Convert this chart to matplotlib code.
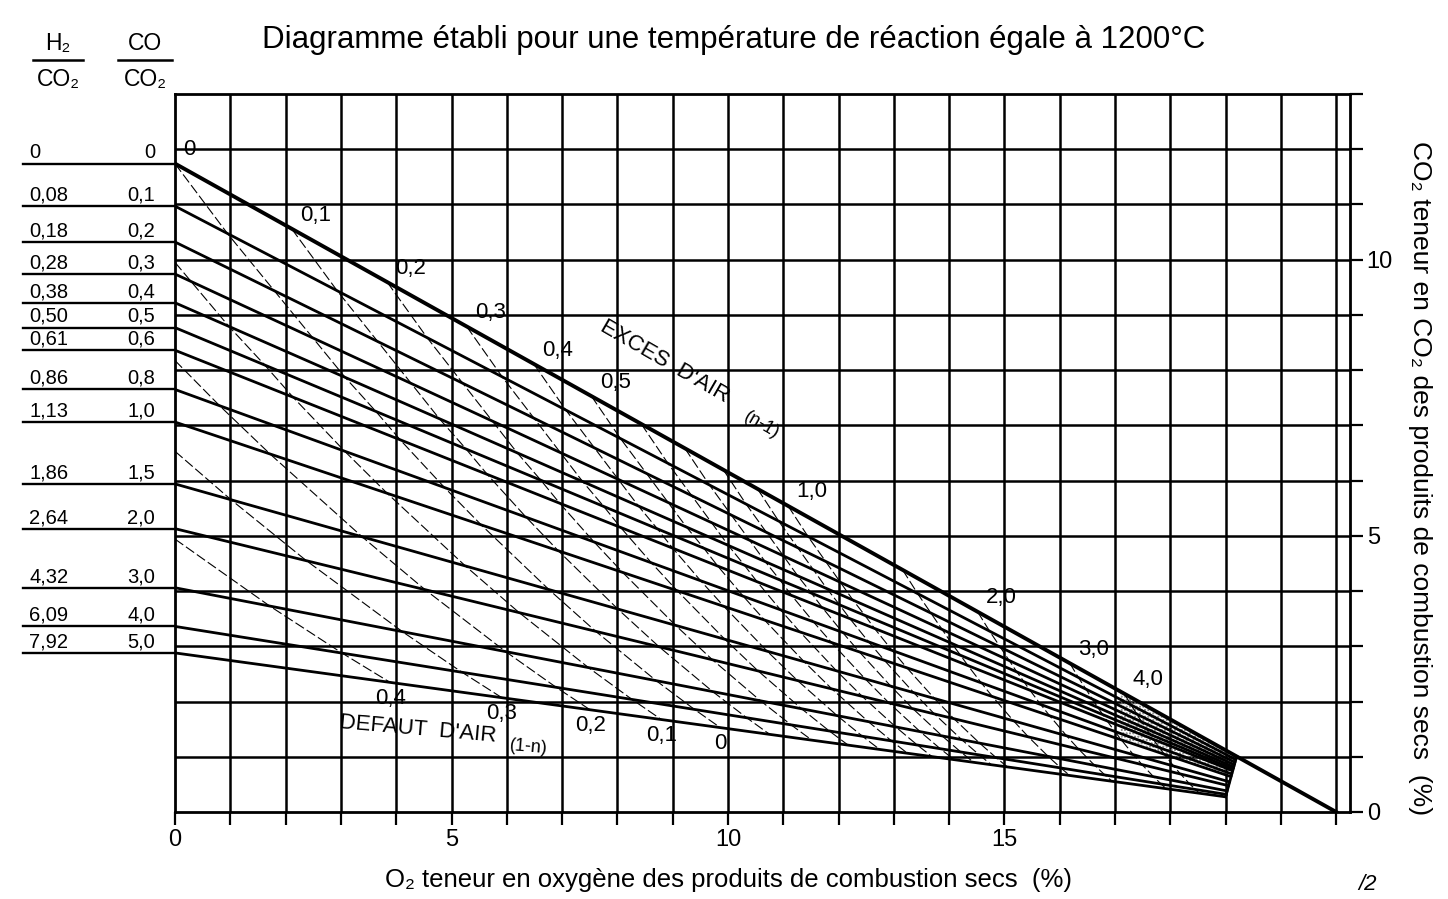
import matplotlib
matplotlib.use("Agg")
import matplotlib.pyplot as plt

plt.rcParams['font.family'] = ['Liberation Sans', 'DejaVu Sans']

# solid lines: ratio CO/CO2 and the matching H2/CO2 (left hand labels)
co_ratio = [0, 0.1, 0.2, 0.3, 0.4, 0.5, 0.6, 0.8, 1.0, 1.5, 2.0, 3.0, 4.0, 5.0]
h2_ratio = [0, 0.08, 0.18, 0.28, 0.38, 0.50, 0.61, 0.86, 1.13, 1.86, 2.64, 4.32, 6.09, 7.92]
co_labels = ["0", "0,1", "0,2", "0,3", "0,4", "0,5", "0,6", "0,8", "1,0",
             "1,5", "2,0", "3,0", "4,0", "5,0"]
h2_labels = ["0", "0,08", "0,18", "0,28", "0,38", "0,50", "0,61", "0,86", "1,13",
             "1,86", "2,64", "4,32", "6,09", "7,92"]
# CO2 % where each line leaves the left axis (O2 = 0)
co2_start = [11.74, 10.97, 10.32, 9.74, 9.22, 8.77, 8.36, 7.65, 7.06, 5.94, 5.13, 4.06, 3.36, 2.88]

# dashed lines: excess air (n-1) and air deficit (1-n)
excess = [0, 0.1, 0.2, 0.3, 0.4, 0.5, 0.6, 0.7, 0.8, 0.9, 1.0, 1.5, 2.0, 3.0, 4.0]
excess_shown = [0, 0.1, 0.2, 0.3, 0.4, 0.5, 1.0, 2.0, 3.0, 4.0]
excess_text = ["0", "0,1", "0,2", "0,3", "0,4", "0,5", "1,0", "2,0", "3,0", "4,0"]
deficit = [0.1, 0.2, 0.3, 0.4]
deficit_shown = [0.4, 0.3, 0.2, 0.1, 0]
deficit_text = ["0,4", "0,3", "0,2", "0,1", "0"]


def flue_point(n, r, q):
    # dry flue gas of methane burnt with n times the stoichiometric air
    f = r / (1 + r)
    h = q / (1 + r)
    o2 = 2 * n - 2 + (f + h) / 2
    dry = 1 + h + o2 + 7.52 * n
    return 100 * o2 / dry, 100 * (1 - f) / dry


def air_line(n):
    pts = [flue_point(n, r, q) for r, q in zip(co_ratio, h2_ratio)]
    xs = [p[0] for p in pts]
    ys = [p[1] for p in pts]
    i0 = next(i for i, x in enumerate(xs) if x >= 0)
    if i0 > 0:
        x1, y1, x2, y2 = xs[i0 - 1], ys[i0 - 1], xs[i0], ys[i0]
        y0 = y1 + (y2 - y1) * (0 - x1) / (x2 - x1)
        return [0] + xs[i0:], [y0] + ys[i0:]
    return xs, ys


fig = plt.figure(figsize=(14.48, 8.99), dpi=100)
ax = fig.add_axes([0.1209, 0.0968, 0.8114, 0.7986])
ax.set_xlim(0, 21.25)
ax.set_ylim(0, 13)

# grid
for gx in range(1, 22):
    ax.axvline(gx, color='black', lw=1.8, zorder=1)
for gy in range(1, 13):
    ax.axhline(gy, color='black', lw=1.8, zorder=1)

# CO/CO2 lines + leaders to the labels
ends = []
for i, c in enumerate(co2_start):
    if i == 0:
        ax.plot([0, 21], [c, 0], color='black', lw=2.8, zorder=3)
        xe = 19.2
    else:
        xe = 19.0 + 0.2 * (c - co2_start[-1]) / (co2_start[0] - co2_start[-1])
        ax.plot([0, xe], [c, c * (1 - xe / 21)], color='black', lw=2.0, zorder=3)
    ends.append((xe, c * (1 - xe / 21)))
    ax.plot([-2.75, 0], [c, c], color='black', lw=1.7, clip_on=False)
    ax.text(-2.64, c + 0.03, h2_labels[i], fontsize=14.5, ha='left', va='bottom')
    ax.text(-0.36, c + 0.03, co_labels[i], fontsize=14.5, ha='right', va='bottom')
ax.plot([ends[-1][0], ends[0][0]], [ends[-1][1], ends[0][1]], color='black', lw=2.0, zorder=3)

# grey stippled area where the lines crowd together
ax.fill([17.1, 19.2, 19.12, 17.1], [2.17, 1.03, 0.62, 1.35], facecolor='none',
        edgecolor='#777777', hatch='.....', lw=0, zorder=2)

# excess / deficit air lines
for e in excess:
    xs, ys = air_line(1 + e)
    ax.plot(xs, ys, color='black', lw=0.8, ls=(0, (9, 3)), zorder=2)
for d in deficit:
    xs, ys = air_line(1 - d)
    ax.plot(xs, ys, color='black', lw=0.8, ls=(0, (9, 3)), zorder=2)

for e, t in zip(excess_shown, excess_text):
    px, py = flue_point(1 + e, 0, 0)
    ax.annotate(t, (px, py), xytext=(6, 10), textcoords='offset points',
                fontsize=16, ha='left', va='center')
for d, t in zip(deficit_shown, deficit_text):
    px, py = flue_point(1 - d, co_ratio[-1], h2_ratio[-1])
    ax.annotate(t, (px, py), xytext=(0, -4), textcoords='offset points',
                fontsize=16, ha='center', va='top')

ax.text(8.85, 8.15, "EXCES  D'AIR", fontsize=16, rotation=-30, ha='center', va='center')
ax.text(10.6, 7.0, "(n-1)", fontsize=13, rotation=-30, ha='center', va='center')
ax.text(4.4, 1.5, "DEFAUT  D'AIR", fontsize=16, rotation=-5, ha='center', va='center')
ax.text(6.4, 1.17, "(1-n)", fontsize=13, rotation=-5, ha='center', va='center')

# axes, ticks
for s in ax.spines.values():
    s.set_linewidth(2.0)
ax.set_xticks(range(0, 22))
ax.set_xticklabels([str(v) if v % 5 == 0 and v < 20 else "" for v in range(0, 22)], fontsize=17)
ax.yaxis.tick_right()
ax.set_yticks(range(0, 14))
ax.set_yticklabels([str(v) if v % 5 == 0 else "" for v in range(0, 14)], fontsize=17)
ax.tick_params(axis='both', direction='out', length=9, width=1.6, pad=3)

# headers and titles
fig.text(262 / 1448, 1 - 40 / 899, "Diagramme établi pour une température de réaction égale à 1200°C",
         fontsize=22.5, ha='left', va='center')
fig.text(58 / 1448, 1 - 44 / 899, "H₂", fontsize=16.5, ha='center', va='center')
fig.text(58 / 1448, 1 - 80 / 899, "CO₂", fontsize=16.5, ha='center', va='center')
fig.text(145 / 1448, 1 - 44 / 899, "CO", fontsize=16.5, ha='center', va='center')
fig.text(145 / 1448, 1 - 80 / 899, "CO₂", fontsize=16.5, ha='center', va='center')
fig.add_artist(plt.Line2D([33 / 1448, 83 / 1448], [1 - 60 / 899, 1 - 60 / 899], color='black', lw=1.8))
fig.add_artist(plt.Line2D([118 / 1448, 172 / 1448], [1 - 60 / 899, 1 - 60 / 899], color='black', lw=1.8))

fig.text(728 / 1448, 1 - 880 / 899, "O₂ teneur en oxygène des produits de combustion secs  (%)",
         fontsize=18.5, ha='center', va='center')
fig.text(1420 / 1448, 1 - 478 / 899, "CO₂ teneur en CO₂ des produits de combustion secs  (%)",
         fontsize=19, ha='center', va='center', rotation=-90)
fig.text(1368 / 1448, 1 - 885 / 899, "/2", fontsize=16, ha='center', va='center', style='italic')

fig.savefig("out.png", dpi=100, facecolor='white')
